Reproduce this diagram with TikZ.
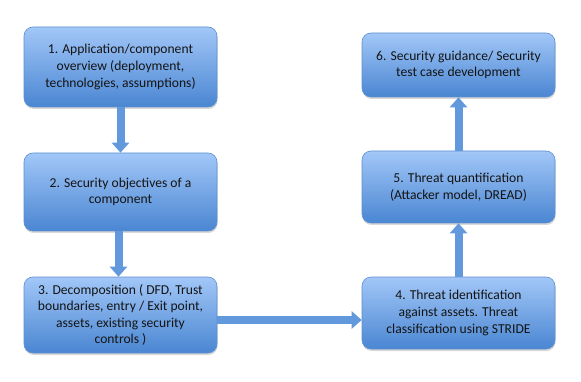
\documentclass[tikz,border=0pt]{standalone}
\usepackage{fontspec}
\setmainfont{Carlito}
\usetikzlibrary{arrows.meta,shadows}

\definecolor{boxtop}{HTML}{A2C7F8}
\definecolor{boxbottom}{HTML}{4A86D2}
\definecolor{boxline}{HTML}{5D8FCF}
\definecolor{arrowblue}{HTML}{6299DD}

\tikzset{
  stepbox/.style={rounded corners=9pt, draw=boxline, line width=0.6pt,
    top color=boxtop, bottom color=boxbottom,
    drop shadow={shadow xshift=0.6pt, shadow yshift=-2pt, opacity=0.3},
    minimum width=193pt, align=center, text=black!92,
    font=\fontsize{13.6}{16.6}\selectfont},
  flowarrow/.style={line width=8pt, draw=arrowblue,
    -{Triangle[width=17pt,length=10pt]}}
}

\begin{document}
\begin{tikzpicture}[x=1pt,y=-1pt]
\useasboundingbox (0,0) rectangle (581,382);

% left column, top to bottom
\node[stepbox, minimum height=80pt] (overview) at (120.5,67) {1. Application/component\\overview (deployment,\\technologies, assumptions)};
\node[stepbox, minimum height=78pt] (objectives) at (120.5,192) {2. Security objectives of a\\component};
\node[stepbox, minimum height=76pt] (decomp) at (120.5,315) {3. Decomposition ( DFD, Trust\\boundaries, entry / Exit point,\\assets, existing security\\controls )};

% right column, bottom to top
\node[stepbox, minimum height=72pt] (threatid) at (458.5,313) {4. Threat identification\\against assets. Threat\\classification using STRIDE};
\node[stepbox, minimum height=72pt] (quant) at (458.5,187) {5. Threat quantification\\(Attacker model, DREAD)};
\node[stepbox, minimum height=64pt] (guidance) at (458.5,65) {6. Security guidance/ Security\\test case development};

% connectors
\draw[flowarrow] (overview.south) -- (objectives.north);
\draw[flowarrow] ([xshift=-2pt]objectives.south) -- ([xshift=-2pt]decomp.north);
\draw[flowarrow] ([yshift=-5pt]decomp.east) -- ([yshift=-7pt]threatid.west);
\draw[flowarrow] (threatid.north) -- (quant.south);
\draw[flowarrow] (quant.north) -- (guidance.south);
\end{tikzpicture}
\end{document}
